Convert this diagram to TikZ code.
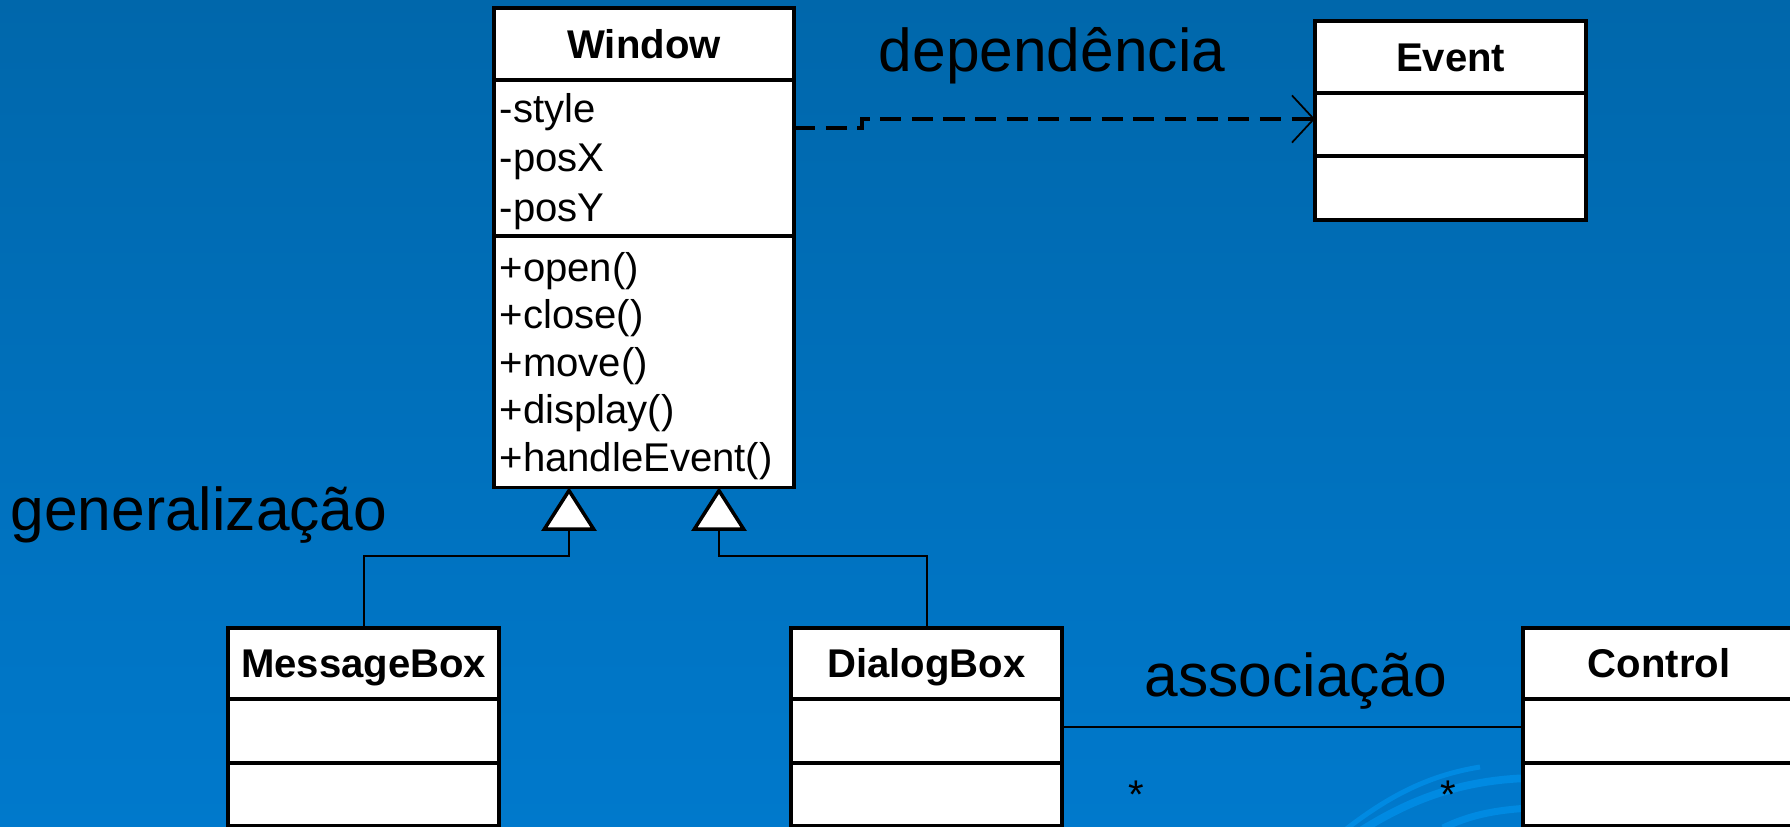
\documentclass[tikz,border=0pt]{standalone}
\usepackage{fontspec}
\setmainfont{Liberation Sans}
\usetikzlibrary{arrows.meta}

\definecolor{slidetop}{RGB}{0,103,171}
\definecolor{slidemid}{RGB}{0,108,182}
\definecolor{slidebottom}{RGB}{0,121,204}
\definecolor{swirl}{RGB}{0,138,226}

\begin{document}
\begin{tikzpicture}[x=0.01cm, y=-0.01cm,
  part/.style={draw=black, line width=1pt, fill=white, anchor=north west, inner sep=0pt, outer sep=0pt},
  title/.style={part, font=\fontsize{11.4}{13.7}\selectfont\bfseries, text height=9.6pt, text depth=1.6pt},
  member/.style={anchor=base west, inner sep=0pt, font=\fontsize{11.4}{13.7}\selectfont},
  caption/.style={anchor=base, inner sep=0pt, font=\fontsize{17.2}{20}\selectfont},
  gen/.style={line width=0.6pt, -{Triangle[length=12.4pt, width=15.6pt, fill=white, line width=1pt]}},
  dep/.style={line width=1.1pt, dash pattern=on 6pt off 3pt, -{Straight Barb[length=6.2pt, width=13.4pt, line width=0.5pt]}},
  assoc/.style={line width=0.6pt}
]

% slide background
\useasboundingbox (0,0) rectangle (1790,827);
\clip (0,0) rectangle (1790,827);
\shade[top color=slidetop, middle color=slidemid, bottom color=slidebottom] (0,0) rectangle (1790,827);
\draw[swirl, line width=1.4pt] (1345,830) .. controls (1390,795) and (1430,775) .. (1480,767);
\draw[swirl, line width=2.2pt] (1362,830) .. controls (1410,800) and (1460,780) .. (1530,778);
\draw[swirl, line width=2pt] (1443,828) .. controls (1470,815) and (1495,810) .. (1530,808);

% Window
\node[title, minimum width=3cm, minimum height=0.72cm] (window) at (494,8) {Window};
\node[part, minimum width=3cm, minimum height=1.56cm] (windowattr) at (window.south west) {};
\node[part, minimum width=3cm, minimum height=2.51cm] (windowops) at (windowattr.south west) {};
 \foreach \m [count=\i] in {-style,-posX,-posY}
  {
  \node[member] (attr\i) at (499,{122+(\i-1)*49.5}) {\m};
  }
 \foreach \m [count=\i] in {+open(),+close(),+move(),+display(),+handleEvent()}
  {
  \node[member] (op\i) at (499,{281+(\i-1)*47.5}) {\m};
  }

% Event
\node[title, minimum width=2.71cm, minimum height=0.72cm] (event) at (1315,21) {Event};
\node[part, minimum width=2.71cm, minimum height=0.63cm] (eventattr) at (event.south west) {};
\node[part, minimum width=2.71cm, minimum height=0.64cm] (eventops) at (eventattr.south west) {};

% MessageBox
\node[title, minimum width=2.71cm, minimum height=0.71cm] (messagebox) at (228,628) {MessageBox};
\node[part, minimum width=2.71cm, minimum height=0.64cm] (messageattr) at (messagebox.south west) {};
\node[part, minimum width=2.71cm, minimum height=0.63cm] (messageops) at (messageattr.south west) {};

% DialogBox
\node[title, minimum width=2.71cm, minimum height=0.71cm] (dialogbox) at (791,628) {DialogBox};
\node[part, minimum width=2.71cm, minimum height=0.64cm] (dialogattr) at (dialogbox.south west) {};
\node[part, minimum width=2.71cm, minimum height=0.63cm] (dialogops) at (dialogattr.south west) {};

% Control
\node[title, minimum width=2.72cm, minimum height=0.71cm] (control) at (1523,628) {Control};
\node[part, minimum width=2.72cm, minimum height=0.64cm] (controlattr) at (control.south west) {};
\node[part, minimum width=2.72cm, minimum height=0.63cm] (controlops) at (controlattr.south west) {};

% dependency
\draw[dep] (windowattr.east |- 0,128) -- (862,128) -- (862,119) -- (eventattr.west |- 0,119);
% generalization
\draw[gen] (messagebox.north) -- ++(0,-72) -| (windowops.south -| 569,0);
\draw[gen] (dialogbox.north) -- ++(0,-72) -| (windowops.south -| 719,0);
% association
\draw[assoc] (dialogattr.east |- 0,727) -- (controlattr.west |- 0,727);
\node[member, anchor=base] (multa) at (1136,808) {*};
\node[member, anchor=base] (multb) at (1448,808) {*};

% labels
\node[caption] (deplabel) at (1052,71) {dependência};
\node[caption] (genlabel) at (199,530) {generalização};
\node[caption] (assoclabel) at (1296,696) {associação};

\end{tikzpicture}
\end{document}
